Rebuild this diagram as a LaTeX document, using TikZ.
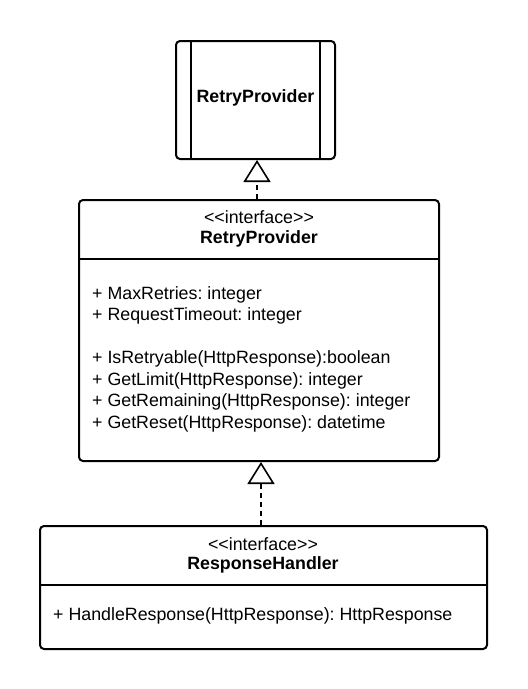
\documentclass[tikz,border=0pt]{standalone}
\usepackage{fontspec}
\setmainfont{Liberation Sans}
\usetikzlibrary{arrows.meta}
\frenchspacing
\newcommand{\stereo}[1]{<\kern0pt<#1>\kern0pt>}
\begin{document}
\begin{tikzpicture}[x=1pt,y=-1pt,
  box/.style={draw=black,line width=2pt,rounded corners=4pt},
  txt/.style={inner sep=0pt,font=\fontsize{17.8}{22}\selectfont\frenchspacing},
  btxt/.style={inner sep=0pt,font=\fontsize{17.8}{22}\selectfont\bfseries},
  attr/.style={txt,anchor=mid west},
  realize/.style={line width=2pt,dashed,dash pattern=on 5pt off 4pt,-{Triangle[open,length=22pt,width=27pt,line width=1.6pt]}}]
\useasboundingbox (0,0) rectangle (528,689);
% top box
\draw[box] (176,41) rectangle (335,159);
\draw[line width=2pt] (191,41) -- (191,159) (320,41) -- (320,159);
\node[btxt] (topname) at (255.5,98) {RetryProvider};
\coordinate (topb) at (257,160);
% middle box
\draw[box] (79,200) rectangle (439,461);
\draw[line width=2pt] (79,259) -- (439,259);
\node[txt] (st1) at (259,217) {\stereo{interface}};
\node[btxt] (n1) at (259,239) {RetryProvider};
\node[attr] (a1) at (92,297) {+ MaxRetries: integer};
\node[attr] (a2) at (92,318) {+ RequestTimeout: integer};
\node[attr] (m1) at (92,361) {+ IsRetryable(HttpResponse):boolean};
\node[attr] (m2) at (92,383) {+ GetLimit(HttpResponse): integer};
\node[attr] (m3) at (92,404) {+ GetRemaining(HttpResponse): integer};
\node[attr] (m4) at (92,426) {+ GetReset(HttpResponse): datetime};
\coordinate (midt) at (257,199);
\coordinate (midb) at (261,462);
% bottom box
\draw[box] (40,526) rectangle (487,649);
\draw[line width=2pt] (40,585) -- (487,585);
\node[txt] (st2) at (263,544) {\stereo{interface}};
\node[btxt] (n2) at (263,565) {ResponseHandler};
\node[attr] (h1) at (53,618) {+ HandleResponse(HttpResponse): HttpResponse};
\coordinate (bott) at (261,525);
% connectors
\draw[realize] (midt) -- (topb);
\draw[realize] (bott) -- (midb);
\end{tikzpicture}
\end{document}
